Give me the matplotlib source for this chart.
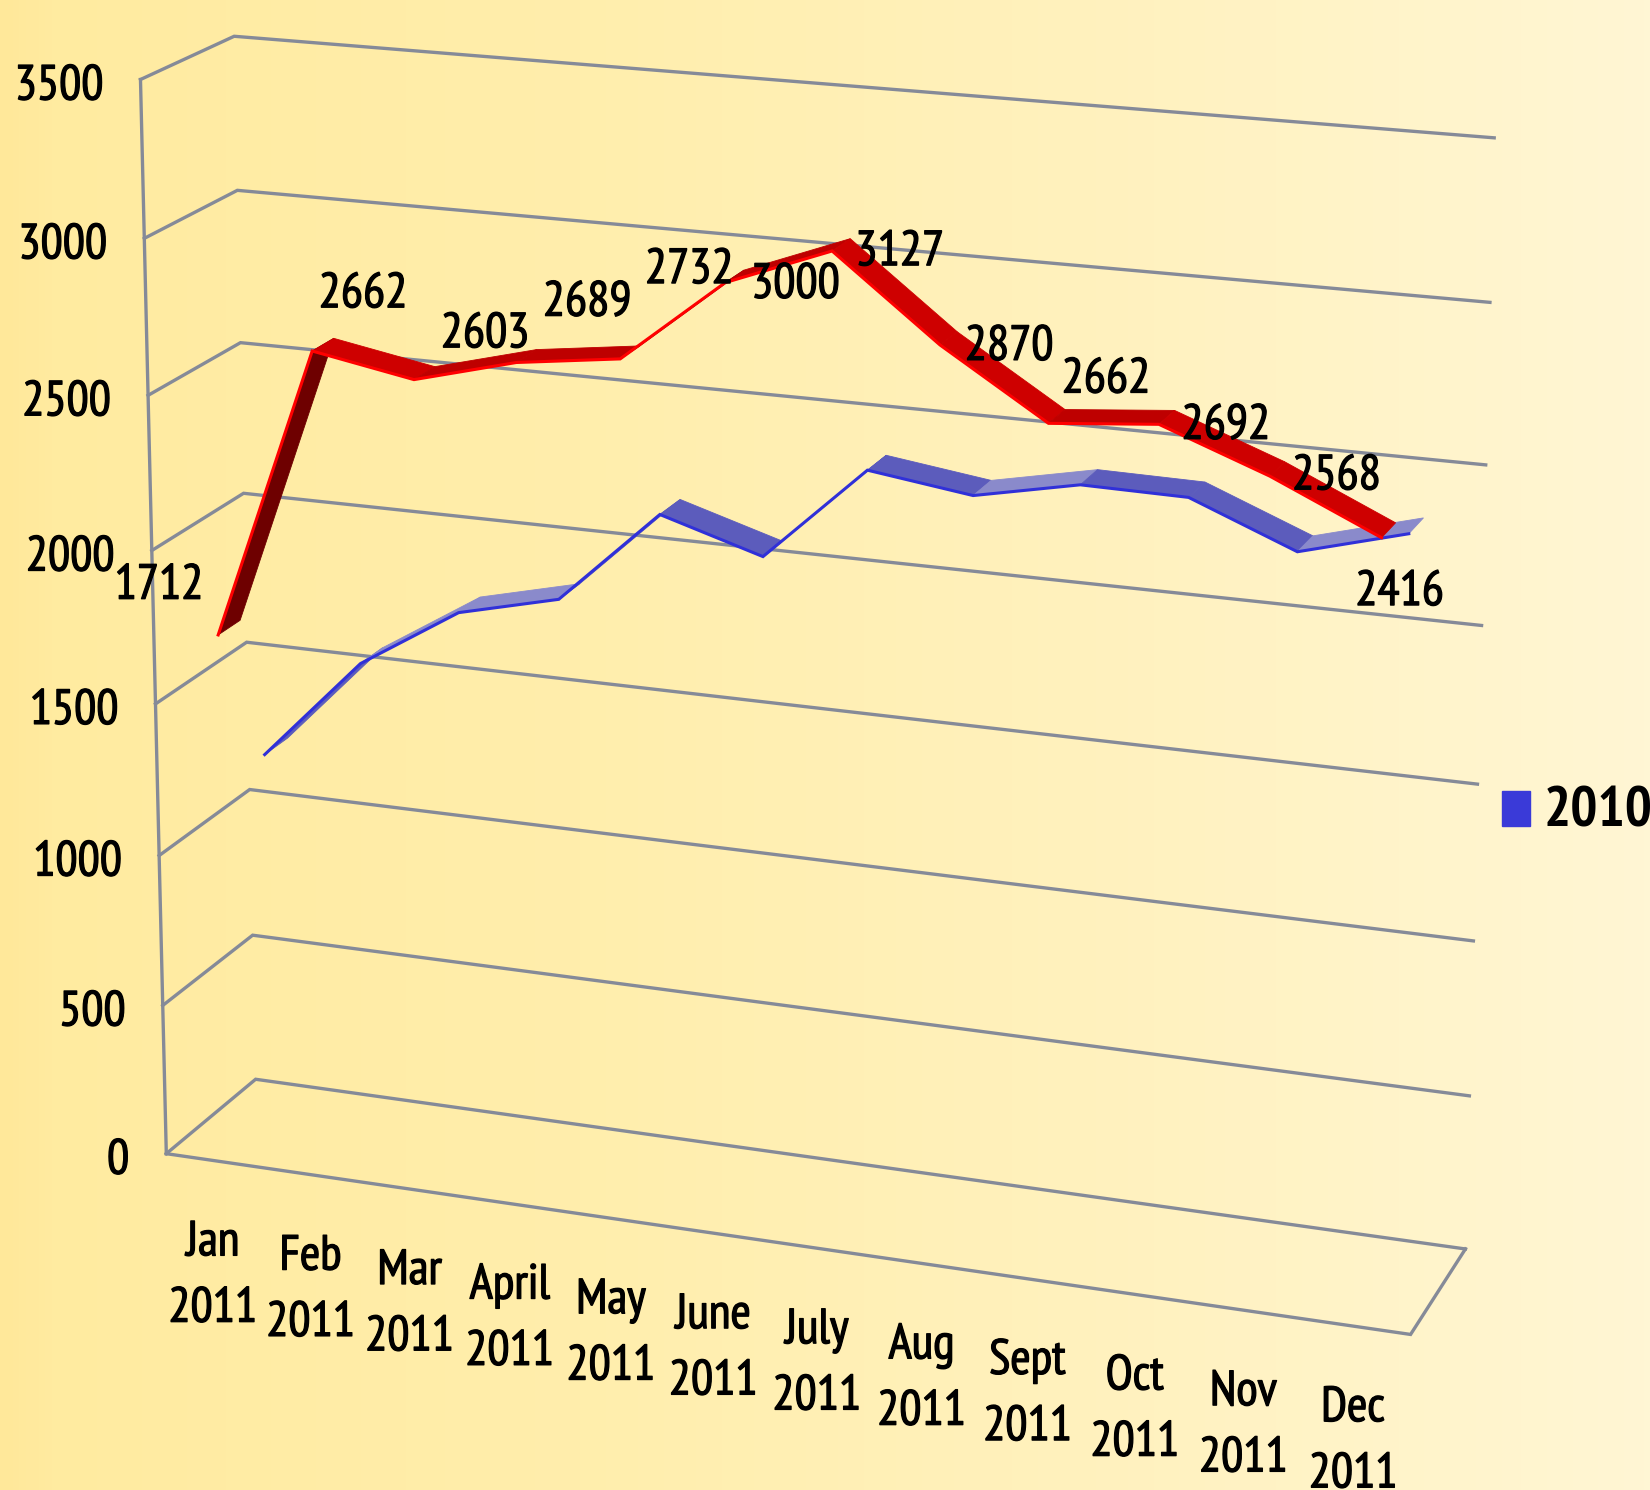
import numpy as np
import matplotlib
matplotlib.use("Agg")
import matplotlib.pyplot as plt
import matplotlib.patheffects as pe
from matplotlib.colors import LinearSegmentedColormap

# narrow face first, the reference text is a squeezed Calibri
plt.rcParams["font.family"] = ["PT Sans Narrow", "Lato", "DejaVu Sans"]

months = ["Jan", "Feb", "Mar", "April", "May", "June", "July", "Aug", "Sept", "Oct", "Nov", "Dec"]
year_label = "2011"
sales_2011 = [1712, 2662, 2603, 2689, 2732, 3000, 3127, 2870, 2662, 2692, 2568, 2416]
sales_2010 = [1216, 1558, 1763, 1843, 2153, 2053, 2363, 2317, 2385, 2380, 2246, 2337]
y_ticks = [0, 500, 1000, 1500, 2000, 2500, 3000, 3500]

W, H = 1650, 1490
S = 1650 / 1568  # picture was measured on the shrunk view
Y_MAX = 3500.0
FS = 35.5

# box corners -> where they land on the picture, used to fit the camera
BOX_3D = [(0, 0, 0), (0, 0, 1), (1, 0, 0), (1, 0, 1), (0, 1, 0), (0, 1, 1), (1, 1, 1)]
BOX_PX = [(158, 1097), (243, 1025), (1340, 1268), (1393, 1187), (134, 75), (222, 35), (1420, 131)]

# regular weight is a bit too light, thicken it slightly
HEAVY = [pe.withStroke(linewidth=0.9, foreground="black")]


def fit_camera():
    rows, rhs = [], []
    for (a, b, c), (u, v) in zip(BOX_3D, BOX_PX):
        u, v = u * S, v * S
        rows.append([a, b, c, 1, 0, 0, 0, 0, -u * a, -u * b, -u * c])
        rhs.append(u)
        rows.append([0, 0, 0, 0, a, b, c, 1, -v * a, -v * b, -v * c])
        rhs.append(v)
    p = np.linalg.lstsq(np.array(rows, float), np.array(rhs, float), rcond=None)[0]
    return np.append(p, 1.0).reshape(3, 4)


CAM = fit_camera()


def project(x, val, z):
    # x in category units (0..12), val in chart units, z 0 = front, 1 = back
    q = CAM @ np.array([x / 12.0, val / Y_MAX, z, 1.0])
    return q[0] / q[2], q[1] / q[2]


def poly_area(pts):
    xs, ys = np.array(pts).T
    return 0.5 * np.sum(xs * np.roll(ys, -1) - np.roll(xs, -1) * ys)


def draw_ribbon(ax, vals, z0, z1, edge, fall, rise, under, zo):
    for i in range(len(vals) - 1):
        x0, x1 = i + 0.5, i + 1.5
        quad = [project(x0, vals[i], z0), project(x1, vals[i + 1], z0),
                project(x1, vals[i + 1], z1), project(x0, vals[i], z1)]
        # y axis points down here, so a flipped quad means we see the underside
        if poly_area(quad) > 0:
            col = under
        else:
            col = fall if vals[i + 1] < vals[i] else rise
        ax.fill(*zip(*quad), color=col, lw=0.6, zorder=zo)
    front = [project(i + 0.5, v, z0) for i, v in enumerate(vals)]
    ax.plot(*zip(*front), color=edge, lw=2.2, solid_joinstyle="miter", zorder=zo + 0.1)


def label(ax, x, y, s, ha="center"):
    ax.text(x, y, s, ha=ha, va="baseline", fontsize=FS, color="black", zorder=6, path_effects=HEAVY)


fig = plt.figure(figsize=(W / 100, H / 100), dpi=100)
ax = fig.add_axes([0, 0, 1, 1])
ax.set_xlim(0, W)
ax.set_ylim(H, 0)
ax.axis("off")

# background
cmap = LinearSegmentedColormap.from_list(
    "bg", [(0, "#FFE89A"), (0.03, "#FFEBA0"), (0.35, "#FFEEAC"), (0.7, "#FFF2C0"), (1, "#FFF6D4")])
ax.imshow(np.linspace(0, 1, 512).reshape(1, -1), cmap=cmap, aspect="auto", extent=(0, W, H, 0), zorder=0)

# walls
GRID = "#858A98"
for v in y_ticks:
    pts = [project(0, v, 0), project(0, v, 1), project(12, v, 1)]
    ax.plot(*zip(*pts), color=GRID, lw=2.4, solid_joinstyle="miter", zorder=1)
    px, py = project(0, v, 0)
    label(ax, px - 37, py + 20, str(v), ha="right")
ax.plot(*zip(project(0, 0, 0), project(0, Y_MAX, 0)), color=GRID, lw=2.4, zorder=1)
floor = [project(0, 0, 0), project(12, 0, 0), project(12, 0, 1)]
ax.plot(*zip(*floor), color=GRID, lw=2.4, solid_joinstyle="miter", zorder=1)

# series
draw_ribbon(ax, sales_2010, 0.64, 0.90, "#3030D8", "#5C5CBC", "#8A8ACB", "#5C5CBC", 2)
draw_ribbon(ax, sales_2011, 0.16, 0.40, "#FF0000", "#CE0000", "#BE0000", "#6E0000", 3)

# category labels
for i, m in enumerate(months):
    px, py = project(i + 0.5, 0, 0)
    label(ax, px - 2 * S, py + 90 * S, m)
    label(ax, px - 2 * S, py + 153 * S, year_label)

# data labels were placed by hand in the original
label_xy = [(151, 553), (345, 276), (461, 314), (558, 284), (655, 253), (756, 267),
            (855, 236), (959, 326), (1051, 357), (1165, 401), (1270, 449), (1330, 559)]
for v, (lx, ly) in zip(sales_2011, label_xy):
    label(ax, lx * S, (ly + 16) * S, str(v))

# legend
ax.add_patch(plt.Rectangle((1427 * S, 752 * S), 27 * S, 33 * S, color="#3A3AD8", zorder=6))
ax.text(1467 * S, 785 * S, "2010", ha="left", va="baseline", fontsize=41, fontweight="bold",
        color="black", zorder=6)

fig.savefig("out.png", dpi=100)
